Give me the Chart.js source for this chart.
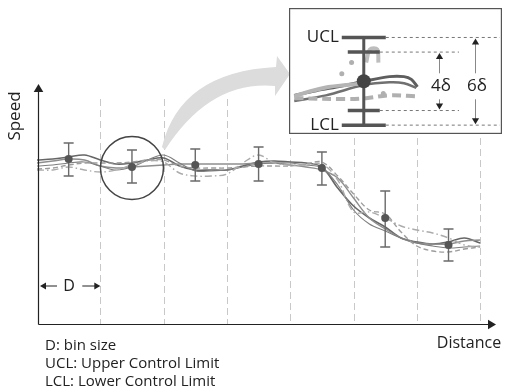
<!DOCTYPE html>
<html>
<head>
<meta charset="utf-8">
<script src="https://cdn.jsdelivr.net/npm/chart.js@4"></script>
<style>
  body { margin: 0; background: #fff; }
  #wrap { position: relative; width: 508px; height: 390px; }
  #inset { position: absolute; left: 289px; top: 8px; }
</style>
</head>
<body>
<div id="wrap">
  <canvas id="speedChart" width="508" height="390"></canvas>
  <canvas id="inset" width="213" height="126"></canvas>
</div>
<script>
// distance in bin units (D = 1)
const distance = [0, 0.25, 0.5, 0.75, 1, 1.25, 1.5, 1.75, 2, 2.25, 2.5, 2.75, 3, 3.25, 3.5,
  3.75, 4, 4.25, 4.5, 4.75, 5, 5.25, 5.5, 5.75, 6, 6.25, 6.5, 6.75, 7];

// speed traces of each run
const run1 = [164, 165, 167, 169, 164, 160, 161, 164, 166, 158, 154, 154, 154, 158, 162,
  163, 162, 161, 157, 136, 118, 106, 97, 86, 82, 80, 82, 86, 81];
const run2 = [161, 163, 165, 164, 158, 156, 157, 158, 159, 160, 160, 160, 160, 160, 161,
  161, 159, 157, 154, 146, 126, 106, 95, 86, 81, 80, 80, 83, 84];
const run3 = [158, 159, 161, 162, 158, 154, 157, 164, 169, 161, 153, 153, 154, 157, 160,
  161, 161, 159, 156, 139, 114, 100, 93, 86, 81, 78, 76, 77, 78];
const run4 = [155, 156, 159, 161, 161, 161, 162, 164, 164, 158, 156, 156, 156, 157, 158,
  158, 158, 160, 162, 148, 130, 114, 110, 92, 78, 73, 72, 75, 77];
const run5 = [154, 154, 157, 154, 152, 154, 159, 163, 162, 151, 148, 148, 150, 161, 169,
  161, 159, 159, 160, 144, 112, 112, 106, 98, 94, 91, 86, 79, 77];

// bin statistics
const binCenter = [0.5, 1.5, 2.5, 3.5, 4.5, 5.5, 6.5];
const binMean = [165, 157, 159, 160, 156, 106, 79];
const binUpper = [181, 174, 175, 177, 172, 133, 95];
const binLower = [148, 141, 143, 143, 139, 77, 63];
const binEdges = [1, 2, 3, 4, 5, 6, 7];

// zoomed view of bin 2 (inset)
const zoomMean = 157;
const zoomDelta = 7.8;
const zoomUpperX = [0.93, 1.11, 1.32, 1.5, 1.71, 1.83, 1.89, 1.94];
const zoomUpperY = [149.5, 152, 154.5, 157, 159.5, 159.5, 158, 154];
const zoomLowerX = [0.93, 1.19, 1.5, 1.71, 1.83, 1.93];
const zoomLowerY = [146.5, 149.5, 155, 156.5, 156, 153.5];
const zoomLightX = [0.93, 1.05, 1.21, 1.36, 1.5];
const zoomLightY = [149, 151.5, 154, 155, 156];
const zoomDashX = [0.93, 1.36, 1.52, 1.71, 1.93];
const zoomDashY = [148, 147.5, 148, 149.5, 149];
const zoomSpikeX = [1.52, 1.55, 1.61, 1.62];
const zoomSpikeY = [167, 174, 174, 167];
const zoomDotX = [1.32, 1.4, 1.66];
const zoomDotY = [161, 167, 150.5];

const FONT = '"Open Sans", "Noto Sans", sans-serif';

function pts(xs, ys) {
  return xs.map((x, i) => ({ x: x, y: ys[i] }));
}

function trace(values, color, width, dash) {
  return {
    data: pts(distance, values),
    borderColor: color,
    borderWidth: width,
    borderDash: dash,
    pointRadius: 0,
    tension: 0.35,
    fill: false,
  };
}

function arrowHead(ctx, x, y, dir, size) {
  // dir: 'up', 'down', 'left', 'right'
  ctx.beginPath();
  if (dir === "up") { ctx.moveTo(x, y); ctx.lineTo(x - size * 0.6, y + size); ctx.lineTo(x + size * 0.6, y + size); }
  if (dir === "down") { ctx.moveTo(x, y); ctx.lineTo(x - size * 0.6, y - size); ctx.lineTo(x + size * 0.6, y - size); }
  if (dir === "left") { ctx.moveTo(x, y); ctx.lineTo(x + size, y - size * 0.6); ctx.lineTo(x + size, y + size * 0.6); }
  if (dir === "right") { ctx.moveTo(x, y); ctx.lineTo(x - size, y - size * 0.6); ctx.lineTo(x - size, y + size * 0.6); }
  ctx.closePath();
  ctx.fill();
}

const backdrop = {
  id: "backdrop",
  beforeDatasetsDraw(chart) {
    const ctx = chart.ctx;
    const xs = chart.scales.x;
    const area = chart.chartArea;
    ctx.save();
    ctx.strokeStyle = "#c8c8c8";
    ctx.lineWidth = 1;
    ctx.setLineDash([7, 4]);
    binEdges.forEach((b) => {
      const px = Math.round(xs.getPixelForValue(b)) + 0.5;
      const top = px > 285 ? 138 : 99;
      ctx.beginPath();
      ctx.moveTo(px, top);
      ctx.lineTo(px, area.bottom);
      ctx.stroke();
    });
    ctx.restore();
  },
  afterDatasetsDraw(chart) {
    const ctx = chart.ctx;
    const xs = chart.scales.x;
    const ys = chart.scales.y;
    const area = chart.chartArea;
    ctx.save();

    // error bars
    ctx.strokeStyle = "#6a6a6a";
    ctx.lineWidth = 1.4;
    binCenter.forEach((c, i) => {
      const px = xs.getPixelForValue(c);
      const top = ys.getPixelForValue(binUpper[i]);
      const bot = ys.getPixelForValue(binLower[i]);
      ctx.beginPath();
      ctx.moveTo(px, top); ctx.lineTo(px, bot);
      ctx.moveTo(px - 5, top); ctx.lineTo(px + 5, top);
      ctx.moveTo(px - 5, bot); ctx.lineTo(px + 5, bot);
      ctx.stroke();
    });
    // means
    ctx.fillStyle = "#555";
    binCenter.forEach((c, i) => {
      ctx.beginPath();
      ctx.arc(xs.getPixelForValue(c), ys.getPixelForValue(binMean[i]), 4, 0, Math.PI * 2);
      ctx.fill();
    });

    // axes
    ctx.strokeStyle = "#222";
    ctx.fillStyle = "#222";
    ctx.lineWidth = 1.2;
    const ox = area.left + 1.5;
    const oy = area.bottom + 0.5;
    ctx.beginPath();
    ctx.moveTo(ox, oy); ctx.lineTo(ox, area.top + 5);
    ctx.moveTo(ox, oy); ctx.lineTo(area.right - 5, oy);
    ctx.stroke();
    arrowHead(ctx, ox, area.top, "up", 8);
    arrowHead(ctx, area.right, oy, "right", 8);

    // bin size marker
    const d0 = xs.getPixelForValue(0) + 3;
    const d1 = xs.getPixelForValue(1);
    const dy = 286;
    ctx.lineWidth = 1;
    ctx.beginPath();
    ctx.moveTo(d0 + 4, dy); ctx.lineTo(d0 + 17, dy);
    ctx.moveTo(d1 - 18, dy); ctx.lineTo(d1 - 4, dy);
    ctx.stroke();
    arrowHead(ctx, d0, dy, "left", 6);
    arrowHead(ctx, d1, dy, "right", 6);
    ctx.font = "16px " + FONT;
    ctx.textAlign = "center";
    ctx.textBaseline = "middle";
    ctx.fillText("D", (d0 + d1) / 2 - 1, dy);

    // axis titles and notes
    ctx.fillText("Distance", 469, 343);
    ctx.save();
    ctx.translate(15, 116);
    ctx.rotate(-Math.PI / 2);
    ctx.font = "17px " + FONT;
    ctx.fillText("Speed", 0, 0);
    ctx.restore();
    ctx.font = "15px " + FONT;
    ctx.textAlign = "left";
    ctx.fillText("D: bin size", 45, 346);
    ctx.fillText("UCL: Upper Control Limit", 45, 364);
    ctx.fillText("LCL: Lower Control Limit", 45, 382);

    // zoom circle around bin 2
    const cx = xs.getPixelForValue(binCenter[1]);
    const cy = ys.getPixelForValue(binMean[1]) + 1;
    ctx.strokeStyle = "#444";
    ctx.lineWidth = 1.5;
    ctx.beginPath();
    ctx.arc(cx, cy, 31.5, 0, Math.PI * 2);
    ctx.stroke();

    // curved arrow to the inset
    const tx = cx + 30, ty = cy - 21;
    ctx.fillStyle = "#dcdcdc";
    ctx.beginPath();
    ctx.moveTo(tx, ty);
    ctx.quadraticCurveTo(180, 72, 276, 67);
    ctx.lineTo(277, 56);
    ctx.lineTo(290, 74);
    ctx.lineTo(275, 96);
    ctx.lineTo(275, 86);
    ctx.quadraticCurveTo(210, 80, tx + 3, ty + 3);
    ctx.closePath();
    ctx.fill();

    ctx.restore();
  },
};

new Chart(document.getElementById("speedChart"), {
  type: "line",
  data: {
    datasets: [
      trace(run5, "#ababab", 1.4, [7, 3, 1.5, 3]),
      trace(run4, "#9c9c9c", 1.4, [5, 3]),
      trace(run3, "#7e7e7e", 1.1, []),
      trace(run2, "#8e8e8e", 1.4, []),
      trace(run1, "#666666", 1.6, []),
    ],
  },
  options: {
    responsive: false,
    animation: false,
    layout: { padding: { left: 37, right: 12, top: 84, bottom: 66 } },
    plugins: { legend: { display: false }, tooltip: { enabled: false } },
    scales: {
      x: { type: "linear", min: 0, max: 7.25, display: false },
      y: { min: 0, max: 240, display: false },
    },
  },
  plugins: [backdrop],
});

// inset: magnified bin with control limits
const insetDecor = {
  id: "insetDecor",
  beforeDraw(chart) {
    const ctx = chart.ctx;
    ctx.save();
    ctx.fillStyle = "#fff";
    ctx.fillRect(0, 0, chart.width, chart.height);
    ctx.restore();
  },
  afterDatasetsDraw(chart) {
    const ctx = chart.ctx;
    const xs = chart.scales.x;
    const ys = chart.scales.y;
    const px = xs.getPixelForValue(binCenter[1]);
    const yMean = ys.getPixelForValue(zoomMean);
    const yIn1 = ys.getPixelForValue(zoomMean + 2 * zoomDelta);
    const yIn2 = ys.getPixelForValue(zoomMean - 2 * zoomDelta);
    const yOut1 = ys.getPixelForValue(zoomMean + 3 * zoomDelta);
    const yOut2 = ys.getPixelForValue(zoomMean - 3 * zoomDelta);
    ctx.save();

    // dashed guides
    ctx.strokeStyle = "#777";
    ctx.lineWidth = 1;
    ctx.setLineDash([3, 3]);
    ctx.beginPath();
    ctx.moveTo(px + 22, yOut1); ctx.lineTo(chart.width - 2, yOut1);
    ctx.moveTo(px + 22, yOut2); ctx.lineTo(chart.width - 2, yOut2);
    ctx.moveTo(px + 16, yIn1); ctx.lineTo(170, yIn1);
    ctx.moveTo(px + 16, yIn2); ctx.lineTo(170, yIn2);
    ctx.stroke();
    ctx.setLineDash([]);

    // error bar with limits
    ctx.strokeStyle = "#555";
    ctx.lineWidth = 3;
    ctx.beginPath();
    ctx.moveTo(px, yOut1); ctx.lineTo(px, yOut2);
    ctx.stroke();
    ctx.lineWidth = 3.5;
    ctx.beginPath();
    ctx.moveTo(px - 22, yOut1); ctx.lineTo(px + 22, yOut1);
    ctx.moveTo(px - 22, yOut2); ctx.lineTo(px + 22, yOut2);
    ctx.moveTo(px - 16, yIn1); ctx.lineTo(px + 16, yIn1);
    ctx.moveTo(px - 16, yIn2); ctx.lineTo(px + 16, yIn2);
    ctx.stroke();
    ctx.fillStyle = "#444";
    ctx.beginPath();
    ctx.arc(px, yMean, 7, 0, Math.PI * 2);
    ctx.fill();

    // labels
    ctx.fillStyle = "#222";
    ctx.font = "17px " + FONT;
    ctx.textBaseline = "middle";
    ctx.textAlign = "right";
    ctx.fillText("UCL", px - 25, yOut1);
    ctx.fillText("LCL", px - 25, yOut2);
    ctx.textAlign = "center";
    ctx.fillText("4\u03b4", 152, yMean + 5);
    ctx.fillText("6\u03b4", 188, yMean + 5);

    // dimension arrows
    ctx.strokeStyle = "#888";
    ctx.lineWidth = 1;
    [[150, yIn1, yIn2], [186, yOut1, yOut2]].forEach(([ax, a, b]) => {
      ctx.beginPath();
      ctx.moveTo(ax + 0.5, a + 6); ctx.lineTo(ax + 0.5, yMean - 8);
      ctx.moveTo(ax + 0.5, yMean + 18); ctx.lineTo(ax + 0.5, b - 6);
      ctx.stroke();
      ctx.fillStyle = "#222";
      arrowHead(ctx, ax + 0.5, a + 1, "up", 6);
      arrowHead(ctx, ax + 0.5, b - 1, "down", 6);
    });

    // frame
    ctx.strokeStyle = "#555";
    ctx.lineWidth = 1.2;
    ctx.strokeRect(0.6, 0.6, chart.width - 1.2, chart.height - 1.2);
    ctx.restore();
  },
};

function zoomLine(xv, yv, color, width, dash) {
  return {
    data: pts(xv, yv),
    borderColor: color,
    borderWidth: width,
    borderDash: dash,
    pointRadius: 0,
    tension: 0.35,
    fill: false,
  };
}

new Chart(document.getElementById("inset"), {
  type: "line",
  data: {
    datasets: [
      zoomLine(zoomLightX, zoomLightY, "#b4b4b4", 4, []),
      zoomLine(zoomDashX, zoomDashY, "#b0b0b0", 4, [9, 5]),
      zoomLine(zoomSpikeX, zoomSpikeY, "#bdbdbd", 4, []),
      zoomLine(zoomLowerX, zoomLowerY, "#707070", 2.5, []),
      zoomLine(zoomUpperX, zoomUpperY, "#5e5e5e", 3, []),
      {
        data: pts(zoomDotX, zoomDotY),
        showLine: false,
        pointRadius: 2.5,
        pointBackgroundColor: "#b0b0b0",
        pointBorderWidth: 0,
      },
    ],
  },
  options: {
    responsive: false,
    animation: false,
    layout: { padding: 0 },
    plugins: { legend: { display: false }, tooltip: { enabled: false } },
    scales: {
      x: { type: "linear", min: 0.92, max: 2.6, display: false },
      y: { min: 131, max: 194, display: false },
    },
  },
  plugins: [insetDecor],
});
</script>
</body>
</html>
